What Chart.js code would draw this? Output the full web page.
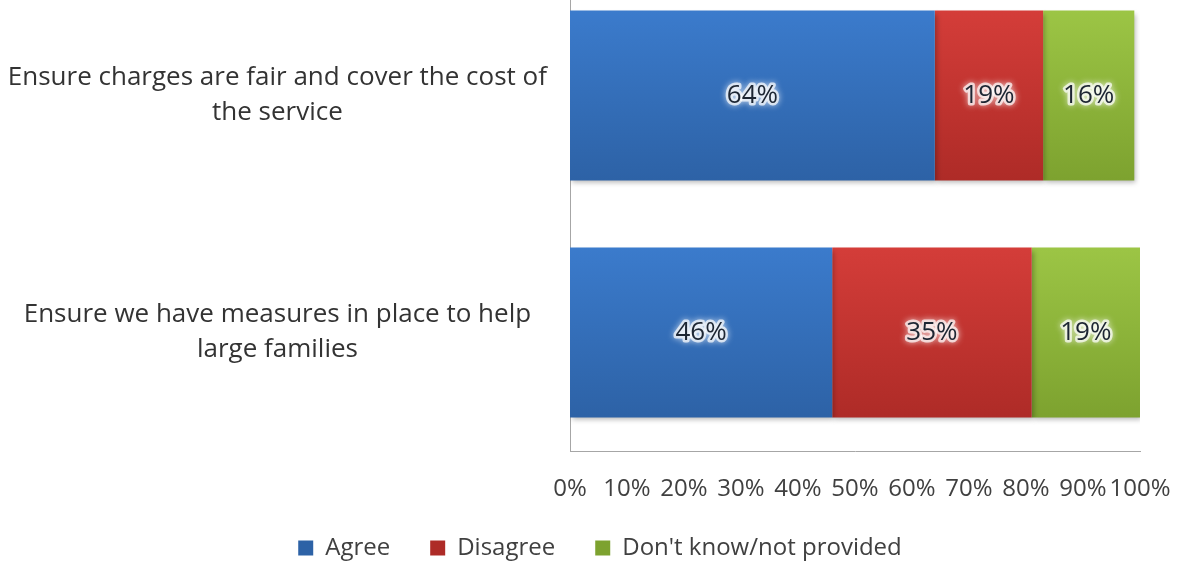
<!DOCTYPE html>
<html>
<head>
<meta charset="utf-8">
<script src="https://cdn.jsdelivr.net/npm/chart.js@4.4.1/dist/chart.umd.min.js"></script>
<style>
    html, body { margin: 0; padding: 0; background: #fff; overflow: hidden; width: 1181px; height: 565px; }
    #wrap { position: absolute; left: 0; top: -23px; width: 1181px; height: 593px; }
</style>
</head>
<body>
<div id="wrap"><canvas id="chart"></canvas></div>
<script>
const categories = [
    ['Ensure charges are fair and cover the cost of', 'the service'],
    ['Ensure we have measures in place to help', 'large families']
];
const seriesNames = ['Agree', 'Disagree', "Don't know/not provided"];
const agree = [64, 46];
const disagree = [19, 35];
const dontKnow = [16, 19];
const xTicks = [0, 10, 20, 30, 40, 50, 60, 70, 80, 90, 100];

const BAR_PCT = 0.717;
const FONT = '"Open Sans", Lato, sans-serif';

// vertical gradient per bar, spanning that bar's thickness
function barFill(topColor, bottomColor) {
    return function (ctx) {
        const chart = ctx.chart;
        const area = chart.chartArea;
        if (!area || ctx.type !== 'data') return bottomColor;
        const y = chart.scales.y;
        const cy = y.getPixelForValue(ctx.dataIndex);
        const half = (area.bottom - area.top) / categories.length * BAR_PCT / 2;
        const g = chart.ctx.createLinearGradient(0, cy - half, 0, cy + half);
        g.addColorStop(0, topColor);
        g.addColorStop(1, bottomColor);
        return g;
    };
}

const barShadow = {
    id: 'barShadow',
    beforeDatasetsDraw(chart) {
        const c = chart.ctx;
        c.save();
        c.shadowColor = 'rgba(0,0,0,0.28)';
        c.shadowBlur = 5;
        c.shadowOffsetX = 2;
        c.shadowOffsetY = 3;
    },
    afterDatasetsDraw(chart) {
        chart.ctx.restore();
    }
};

// legend sits a little right of the canvas centre, under the plot
const legendShift = {
    id: 'legendShift',
    afterLayout(chart) {
        if (chart.legend) chart.legend.left += 60;
    }
};

// percentage labels in the middle of each segment, dark text with a white halo
const segmentLabels = {
    id: 'segmentLabels',
    afterDatasetsDraw(chart) {
        const c = chart.ctx;
        c.save();
        c.font = '26px ' + FONT;
        c.textAlign = 'center';
        c.textBaseline = 'middle';
        chart.data.datasets.forEach((ds, i) => {
            chart.getDatasetMeta(i).data.forEach((bar, j) => {
                const x = (bar.x + bar.base) / 2;
                const text = ds.data[j] + '%';
                c.shadowColor = 'rgba(255,255,255,0.95)';
                c.shadowBlur = 6;
                c.lineJoin = 'round';
                c.lineWidth = 5;
                c.strokeStyle = 'rgba(255,255,255,0.7)';
                c.strokeText(text, x, bar.y);
                c.shadowBlur = 0;
                c.fillStyle = '#1d2633';
                c.fillText(text, x, bar.y);
            });
        });
        c.restore();
    }
};

const ctx = document.getElementById('chart').getContext('2d');
new Chart(ctx, {
    type: 'bar',
    data: {
        labels: categories,
        datasets: [
            { label: seriesNames[0], data: agree, backgroundColor: barFill('#3b7bcc', '#2d62a6') },
            { label: seriesNames[1], data: disagree, backgroundColor: barFill('#d43d39', '#ae2b27') },
            { label: seriesNames[2], data: dontKnow, backgroundColor: barFill('#9cc545', '#7da22f') }
        ]
    },
    options: {
        indexAxis: 'y',
        responsive: true,
        maintainAspectRatio: false,
        animation: false,
        datasets: {
            bar: { categoryPercentage: 1, barPercentage: BAR_PCT, borderWidth: 0 }
        },
        layout: { padding: { top: 0, right: 41, bottom: 0, left: 0 } },
        scales: {
            x: {
                stacked: true,
                min: 0,
                max: 100,
                afterBuildTicks: s => { s.ticks = xTicks.map(v => ({ value: v })); },
                afterFit: s => {
                    s.height = 45;
                    s.paddingLeft = 0;
                    s.paddingRight = 0;
                },
                grid: { display: false, drawTicks: false },
                border: { display: true, color: '#a6a6a6', width: 1 },
                ticks: {
                    padding: 24,
                    autoSkip: false,
                    maxRotation: 0,
                    color: '#404040',
                    font: { family: FONT, size: 24 },
                    callback: v => v + '%'
                }
            },
            y: {
                stacked: true,
                afterFit: s => {
                    s.width = 570;
                    s.paddingTop = 0;
                    s.paddingBottom = 0;
                },
                grid: { display: false, drawTicks: false },
                border: { display: true, color: '#a6a6a6', width: 1 },
                ticks: {
                    crossAlign: 'center',
                    padding: 23,
                    color: '#333',
                    font: { family: FONT, size: 26, lineHeight: 1.35 }
                }
            }
        },
        plugins: {
            tooltip: { enabled: false },
            legend: {
                position: 'bottom',
                labels: {
                    boxWidth: 15,
                    boxHeight: 15,
                    padding: 40,
                    color: '#404040',
                    font: { family: FONT, size: 24 }
                }
            }
        }
    },
    plugins: [barShadow, legendShift, segmentLabels]
});
</script>
</body>
</html>
